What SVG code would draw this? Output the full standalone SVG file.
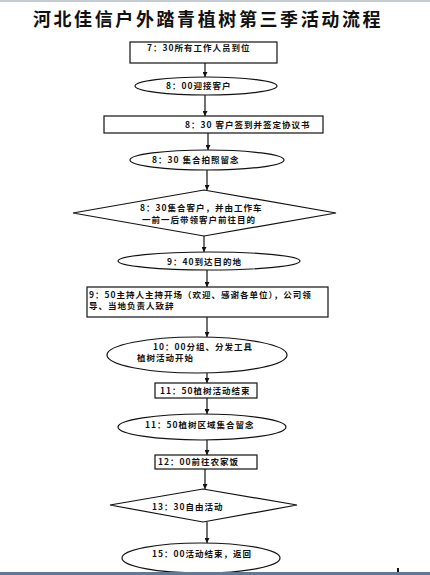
<svg xmlns="http://www.w3.org/2000/svg" width="430" height="575" viewBox="0 0 430 575">
<defs>
<style>
.s{fill:#fff;stroke:#111;stroke-width:1.2}
.t{font-family:"Noto Sans CJK SC","Noto Sans",sans-serif;font-size:8.5px;letter-spacing:1px;fill:#111;font-weight:bold}
.title{font-family:"Noto Sans CJK SC","Noto Sans",sans-serif;font-size:18px;letter-spacing:2.6px;font-weight:bold;fill:#111}
.c{stroke:#111;stroke-width:1.2;fill:none}
</style>
<marker id="ah" viewBox="0 0 10 10" refX="10" refY="5" markerWidth="5" markerHeight="5" orient="auto" markerUnits="userSpaceOnUse">
<path d="M0,0 L10,5 L0,10 z" fill="#111"/>
</marker>
</defs>
<rect x="0" y="0" width="430" height="575" fill="#fff"/>
<rect x="0" y="0" width="430" height="2" fill="#c5cbd3"/>
<rect x="0" y="572" width="430" height="3" fill="#5f7a99"/>
<text class="title" x="208" y="26" text-anchor="middle">河北佳信户外踏青植树第三季活动流程</text>
<g id="connectors">
<line class="c" x1="205" y1="63" x2="205" y2="77" marker-end="url(#ah)"/>
<line class="c" x1="205" y1="95" x2="205" y2="116" marker-end="url(#ah)"/>
<line class="c" x1="208" y1="133" x2="208" y2="150" marker-end="url(#ah)"/>
<line class="c" x1="207" y1="170" x2="207" y2="190" marker-end="url(#ah)"/>
<line class="c" x1="204" y1="236" x2="204" y2="252" marker-end="url(#ah)"/>
<line class="c" x1="207" y1="270" x2="207" y2="287" marker-end="url(#ah)"/>
<line class="c" x1="207" y1="317" x2="207" y2="337" marker-end="url(#ah)"/>
<line class="c" x1="207" y1="373" x2="207" y2="383" marker-end="url(#ah)"/>
<line class="c" x1="207" y1="398" x2="207" y2="414" marker-end="url(#ah)"/>
<line class="c" x1="207" y1="440" x2="207" y2="455" marker-end="url(#ah)"/>
<line class="c" x1="205" y1="469" x2="205" y2="489" marker-end="url(#ah)"/>
<line class="c" x1="207" y1="522" x2="207" y2="543" marker-end="url(#ah)"/>
</g>
<g id="n1"><rect class="s" x="130" y="42" width="147" height="21"/><text class="t" x="147" y="51">7：30所有工作人员到位</text></g>
<g id="n2"><ellipse class="s" cx="206" cy="86" rx="71" ry="9"/><text class="t" x="166" y="89">8：00迎接客户</text></g>
<g id="n3"><rect class="s" x="104" y="116" width="219" height="17"/><text class="t" x="185" y="128">8：30 客户签到并签定协议书</text></g>
<g id="n4"><ellipse class="s" cx="207" cy="160" rx="77" ry="10"/><text class="t" x="152" y="163">8：30 集合拍照留念</text></g>
<g id="n5"><polygon class="s" points="73,213 204,190 336,213 204,236"/><text class="t" x="140" y="211">8：30集合客户，并由工作车</text><text class="t" x="142" y="223">一前一后带领客户前往目的</text></g>
<g id="n6"><ellipse class="s" cx="209" cy="261" rx="91" ry="9"/><text class="t" x="167" y="265">9：40到达目的地</text></g>
<g id="n7"><rect class="s" x="87" y="287" width="241" height="30"/><text class="t" x="89" y="297.5">9：50主持人主持开场（欢迎、感谢各单位），公司领</text><text class="t" x="89" y="308.5">导、当地负责人致辞</text></g>
<g id="n8"><ellipse class="s" cx="197" cy="355" rx="90" ry="18"/><text class="t" x="153" y="350">10：00分组、分发工具</text><text class="t" x="137" y="361">植树活动开始</text></g>
<g id="n9"><rect class="s" x="155" y="383" width="102" height="15"/><text class="t" x="160" y="394">11：50植树活动结束</text></g>
<g id="n10"><ellipse class="s" cx="202" cy="427" rx="84" ry="13"/><text class="t" x="145" y="428">11：50植树区域集合留念</text></g>
<g id="n11"><rect class="s" x="155" y="455" width="102" height="14"/><text class="t" x="158" y="465">12：00前往农家饭</text></g>
<g id="n12"><polygon class="s" points="110,505 203,489 297,505 203,522"/><text class="t" x="152" y="510">13：30自由活动</text></g>
<g id="n13"><ellipse class="s" cx="201" cy="558" rx="79" ry="15"/><text class="t" x="152" y="557">15：00活动结束，返回</text></g>
<rect x="0" y="572" width="430" height="3" fill="#5f7a99"/>
<rect x="397" y="568" width="2" height="4" fill="#111"/>
</svg>
